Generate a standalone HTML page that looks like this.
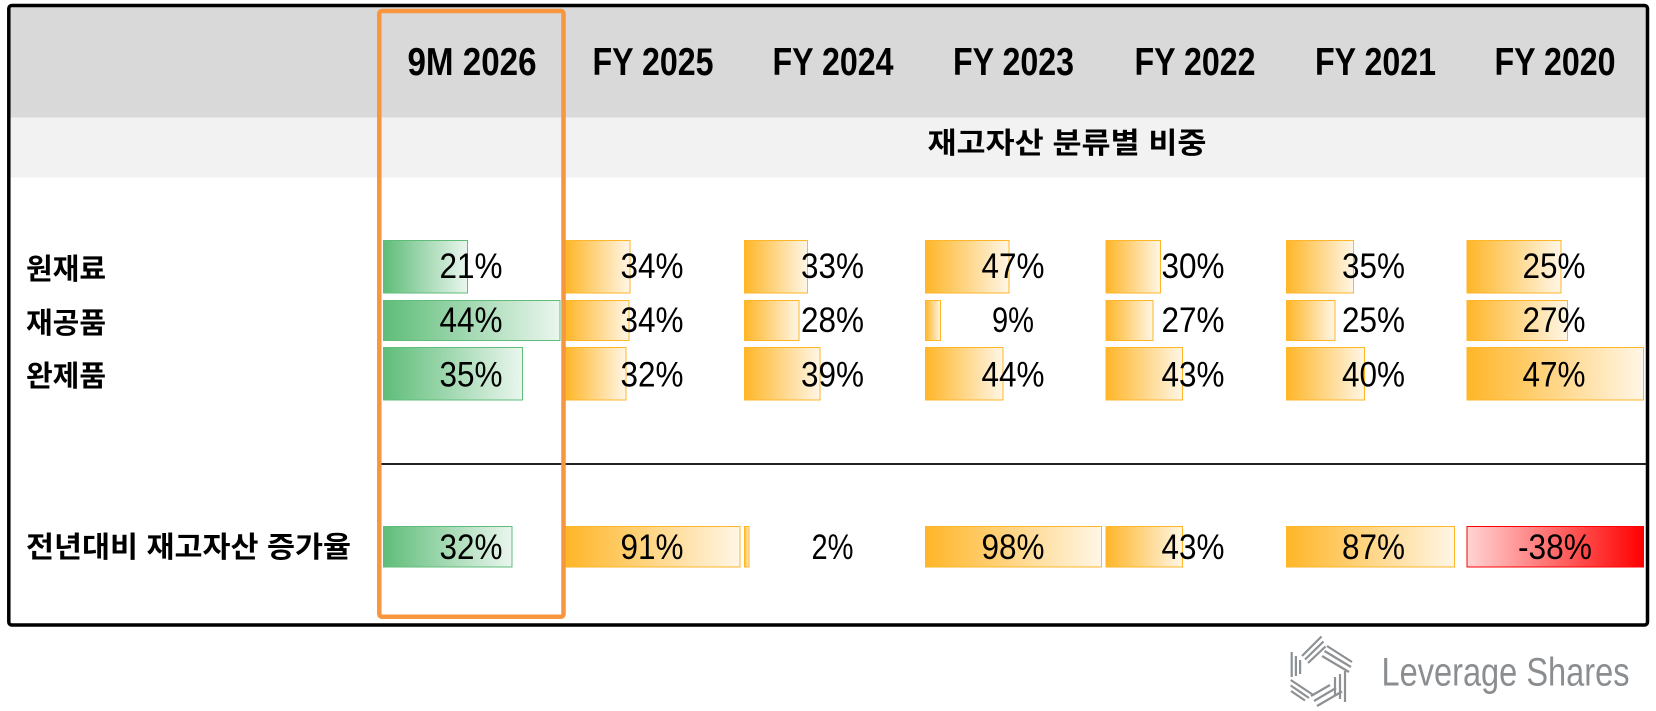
<!DOCTYPE html>
<html>
<head>
<meta charset="utf-8">
<style>
html,body{margin:0;padding:0;background:#fff;}
svg{display:block;}
.hd{font-family:"Liberation Sans",Arial,sans-serif;font-weight:bold;font-size:38.5px;fill:#000;}
.kr{font-family:"Liberation Sans","Noto Sans CJK KR","NanumGothic",sans-serif;font-weight:bold;font-size:29px;fill:#000;}
.v{font-family:"Liberation Sans",Arial,sans-serif;font-size:35px;fill:#000;}
.logo{font-family:"Liberation Sans",Arial,sans-serif;font-size:40px;fill:#8b8e91;}
</style>
</head>
<body>
<svg width="1656" height="711" viewBox="0 0 1656 711" xmlns="http://www.w3.org/2000/svg">
<defs>
<linearGradient id="go" x1="0" y1="0" x2="1" y2="0"><stop offset="0" stop-color="#ffb628"/><stop offset="1" stop-color="#fff6e6"/></linearGradient>
<linearGradient id="gg" x1="0" y1="0" x2="1" y2="0"><stop offset="0" stop-color="#5fbd79"/><stop offset="1" stop-color="#eaf6ee"/></linearGradient>
<linearGradient id="gr" x1="0" y1="0" x2="1" y2="0"><stop offset="0" stop-color="#ffd4d4"/><stop offset="1" stop-color="#ff0000"/></linearGradient>
</defs>

<!-- header backgrounds -->
<rect x="9" y="6" width="1638" height="111.5" fill="#d9d9d9"/>
<rect x="9" y="117.5" width="1638" height="60" fill="#f2f2f2"/>

<!-- header texts -->
<text class="hd" x="472" y="75" text-anchor="middle" textLength="129" lengthAdjust="spacingAndGlyphs">9M 2026</text>
<text class="hd" x="653" y="75" text-anchor="middle" textLength="121" lengthAdjust="spacingAndGlyphs">FY 2025</text>
<text class="hd" x="833" y="75" text-anchor="middle" textLength="121" lengthAdjust="spacingAndGlyphs">FY 2024</text>
<text class="hd" x="1013.5" y="75" text-anchor="middle" textLength="121" lengthAdjust="spacingAndGlyphs">FY 2023</text>
<text class="hd" x="1195" y="75" text-anchor="middle" textLength="121" lengthAdjust="spacingAndGlyphs">FY 2022</text>
<text class="hd" x="1375.5" y="75" text-anchor="middle" textLength="121" lengthAdjust="spacingAndGlyphs">FY 2021</text>
<text class="hd" x="1555" y="75" text-anchor="middle" textLength="121" lengthAdjust="spacingAndGlyphs">FY 2020</text>

<text class="kr" x="1067" y="153" text-anchor="middle" textLength="279" lengthAdjust="spacingAndGlyphs">재고자산 분류별 비중</text>

<!-- row labels -->
<text class="kr" x="26" y="279">원재료</text>
<text class="kr" x="26" y="333">재공품</text>
<text class="kr" x="26" y="386">완제품</text>
<text class="kr" x="26" y="557" textLength="325" lengthAdjust="spacingAndGlyphs">전년대비 재고자산 증가율</text>

<!-- bars: 9M (green) -->
<g stroke="#5fbd79" stroke-width="1" fill="url(#gg)">
<rect x="383.5" y="240.5" width="84" height="52.5"/>
<rect x="383.5" y="300.5" width="176.5" height="40"/>
<rect x="383.5" y="347.5" width="139" height="52.5"/>
<rect x="383.5" y="526.5" width="128.5" height="40.5"/>
</g>
<!-- orange bars -->
<g stroke="#ffb628" stroke-width="1" fill="url(#go)">
<rect x="565.5" y="240.5" width="64.5" height="52.5"/>
<rect x="565.5" y="300.5" width="63.5" height="40"/>
<rect x="565.5" y="347.5" width="60.5" height="52.5"/>
<rect x="565.5" y="526.5" width="174.5" height="40.5"/>

<rect x="744.5" y="240.5" width="63" height="52.5"/>
<rect x="744.5" y="300.5" width="54.5" height="40"/>
<rect x="744.5" y="347.5" width="75.5" height="52.5"/>
<rect x="744.5" y="526.5" width="4.5" height="40.5"/>

<rect x="925.5" y="240.5" width="83.5" height="52.5"/>
<rect x="925.5" y="300.5" width="15" height="40"/>
<rect x="925.5" y="347.5" width="77.5" height="52.5"/>
<rect x="925.5" y="526.5" width="176" height="40.5"/>

<rect x="1106" y="240.5" width="54.5" height="52.5"/>
<rect x="1106" y="300.5" width="47" height="40"/>
<rect x="1106" y="347.5" width="76.5" height="52.5"/>
<rect x="1106" y="526.5" width="76.5" height="40.5"/>

<rect x="1286.5" y="240.5" width="67" height="52.5"/>
<rect x="1286.5" y="300.5" width="48.5" height="40"/>
<rect x="1286.5" y="347.5" width="78" height="52.5"/>
<rect x="1286.5" y="526.5" width="168" height="40.5"/>

<rect x="1467" y="240.5" width="94" height="52.5"/>
<rect x="1467" y="300.5" width="100.5" height="40"/>
<rect x="1467" y="347.5" width="176.5" height="52.5"/>
</g>
<rect x="1467" y="526.5" width="176.5" height="40.5" fill="url(#gr)" stroke="#ff0000" stroke-width="1"/>

<!-- values -->
<g class="v" text-anchor="middle">
<text x="471" y="278" textLength="63" lengthAdjust="spacingAndGlyphs">21%</text>
<text x="652" y="278" textLength="63" lengthAdjust="spacingAndGlyphs">34%</text>
<text x="832.5" y="278" textLength="63" lengthAdjust="spacingAndGlyphs">33%</text>
<text x="1013" y="278" textLength="63" lengthAdjust="spacingAndGlyphs">47%</text>
<text x="1193" y="278" textLength="63" lengthAdjust="spacingAndGlyphs">30%</text>
<text x="1373.5" y="278" textLength="63" lengthAdjust="spacingAndGlyphs">35%</text>
<text x="1554" y="278" textLength="63" lengthAdjust="spacingAndGlyphs">25%</text>

<text x="471" y="332" textLength="63" lengthAdjust="spacingAndGlyphs">44%</text>
<text x="652" y="332" textLength="63" lengthAdjust="spacingAndGlyphs">34%</text>
<text x="832.5" y="332" textLength="63" lengthAdjust="spacingAndGlyphs">28%</text>
<text x="1013" y="332" textLength="42" lengthAdjust="spacingAndGlyphs">9%</text>
<text x="1193" y="332" textLength="63" lengthAdjust="spacingAndGlyphs">27%</text>
<text x="1373.5" y="332" textLength="63" lengthAdjust="spacingAndGlyphs">25%</text>
<text x="1554" y="332" textLength="63" lengthAdjust="spacingAndGlyphs">27%</text>

<text x="471" y="386.5" textLength="63" lengthAdjust="spacingAndGlyphs">35%</text>
<text x="652" y="386.5" textLength="63" lengthAdjust="spacingAndGlyphs">32%</text>
<text x="832.5" y="386.5" textLength="63" lengthAdjust="spacingAndGlyphs">39%</text>
<text x="1013" y="386.5" textLength="63" lengthAdjust="spacingAndGlyphs">44%</text>
<text x="1193" y="386.5" textLength="63" lengthAdjust="spacingAndGlyphs">43%</text>
<text x="1373.5" y="386.5" textLength="63" lengthAdjust="spacingAndGlyphs">40%</text>
<text x="1554" y="386.5" textLength="63" lengthAdjust="spacingAndGlyphs">47%</text>

<text x="471" y="559" textLength="63" lengthAdjust="spacingAndGlyphs">32%</text>
<text x="652" y="559" textLength="63" lengthAdjust="spacingAndGlyphs">91%</text>
<text x="832.5" y="559" textLength="42" lengthAdjust="spacingAndGlyphs">2%</text>
<text x="1013" y="559" textLength="63" lengthAdjust="spacingAndGlyphs">98%</text>
<text x="1193" y="559" textLength="63" lengthAdjust="spacingAndGlyphs">43%</text>
<text x="1373.5" y="559" textLength="63" lengthAdjust="spacingAndGlyphs">87%</text>
<text x="1555" y="559" textLength="74" lengthAdjust="spacingAndGlyphs">-38%</text>
</g>

<!-- separator line -->
<line x1="381" y1="464" x2="1646" y2="464" stroke="#222" stroke-width="2"/>

<!-- outer border -->
<rect x="8.8" y="5.5" width="1638.7" height="619.5" rx="3" ry="3" fill="none" stroke="#000" stroke-width="3.5"/>

<!-- highlight box -->
<rect x="379.3" y="11" width="184.2" height="605.8" rx="2.5" ry="2.5" fill="none" stroke="#f7963f" stroke-width="4.5"/>

<!-- logo -->
<g stroke="#8e9194" stroke-width="2.2" fill="none" stroke-linecap="butt">
<line x1="1291.7" y1="652" x2="1291.7" y2="677"/>
<line x1="1295.9" y1="656" x2="1295.9" y2="676"/>
<line x1="1300.1" y1="660" x2="1300.1" y2="674"/>

<line x1="1302" y1="656" x2="1321.5" y2="636.5"/>
<line x1="1305" y1="659.5" x2="1323.5" y2="641.5"/>
<line x1="1308" y1="663" x2="1325.5" y2="646.5"/>

<line x1="1327" y1="646" x2="1352" y2="662"/>
<line x1="1324.5" y1="651" x2="1351" y2="667"/>
<line x1="1322" y1="656" x2="1349" y2="672"/>

<line x1="1335" y1="677" x2="1335" y2="695"/>
<line x1="1340" y1="674" x2="1340" y2="699"/>
<line x1="1345" y1="671" x2="1345" y2="702"/>

<line x1="1317" y1="706" x2="1342" y2="691.5"/>
<line x1="1314" y1="701" x2="1336" y2="688"/>
<line x1="1311" y1="696" x2="1330" y2="685"/>

<line x1="1290.7" y1="680" x2="1313.3" y2="695"/>
<line x1="1290.7" y1="685.5" x2="1309" y2="698"/>
<line x1="1291" y1="691" x2="1305" y2="700.5"/>
</g>
<text class="logo" x="1381.5" y="685.3" textLength="248" lengthAdjust="spacingAndGlyphs">Leverage Shares</text>
</svg>
</body>
</html>
